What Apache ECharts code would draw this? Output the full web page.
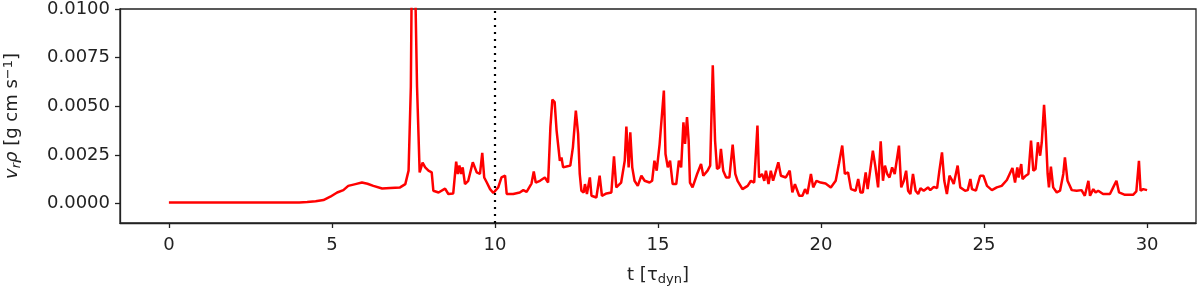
<!DOCTYPE html>
<html>
<head>
<meta charset="utf-8">
<script src="https://cdn.jsdelivr.net/npm/echarts@6/dist/echarts.min.js"></script>
<style>
  html, body { margin: 0; padding: 0; background: #fff; }
  #myChart { width: 1200px; height: 289px; }
</style>
</head>
<body>
<div id="myChart"></div>
<script>
// time in units of tau_dyn
const tVals = [
  0, 1, 2, 3, 4, 4.24, 4.5, 4.74, 4.95, 5.16, 5.35, 5.5, 5.72, 5.92, 6.09, 6.27, 6.54, 6.79, 7.09, 7.25,
  7.35, 7.42, 7.48, 7.54, 7.61, 7.69, 7.78, 7.86, 7.96, 8.06, 8.11, 8.27, 8.47, 8.57, 8.72, 8.81, 8.86, 8.91, 8.96, 9.01,
  9.08, 9.18, 9.32, 9.44, 9.54, 9.61, 9.67, 9.75, 9.85, 9.95, 10.1, 10.2, 10.31, 10.36, 10.56, 10.76, 10.87, 10.97, 11.12, 11.19,
  11.25, 11.38, 11.53, 11.63, 11.7, 11.76, 11.83, 11.89, 11.94, 11.99, 12.04, 12.09, 12.19, 12.31, 12.39, 12.48, 12.55, 12.6, 12.65, 12.72,
  12.76, 12.82, 12.91, 12.96, 13.11, 13.21, 13.28, 13.42, 13.57, 13.65, 13.72, 13.87, 13.98, 14.03, 14.1, 14.15, 14.21, 14.28, 14.38, 14.49,
  14.59, 14.74, 14.82, 14.89, 14.96, 15.05, 15.1, 15.18, 15.23, 15.3, 15.37, 15.45, 15.56, 15.64, 15.71, 15.78, 15.83, 15.89, 15.94, 15.98,
  16.06, 16.2, 16.32, 16.39, 16.52, 16.6, 16.68, 16.75, 16.81, 16.88, 16.93, 17.0, 17.09, 17.19, 17.29, 17.37, 17.44, 17.59, 17.75, 17.85,
  17.95, 18.05, 18.1, 18.19, 18.26, 18.31, 18.39, 18.46, 18.53, 18.69, 18.77, 18.92, 19.04, 19.12, 19.2, 19.33, 19.43, 19.51, 19.58, 19.69,
  19.76, 19.86, 19.99, 20.14, 20.3, 20.45, 20.55, 20.65, 20.73, 20.83, 20.92, 21.06, 21.14, 21.21, 21.28, 21.37, 21.43, 21.59, 21.67, 21.75,
  21.83, 21.9, 21.96, 22.03, 22.1, 22.18, 22.26, 22.39, 22.46, 22.54, 22.61, 22.67, 22.74, 22.82, 22.9, 22.98, 23.05, 23.15, 23.28, 23.35,
  23.46, 23.56, 23.63, 23.71, 23.78, 23.86, 23.94, 24.0, 24.07, 24.19, 24.27, 24.42, 24.5, 24.58, 24.63, 24.75, 24.88, 24.98, 25.09, 25.24,
  25.39, 25.54, 25.7, 25.87, 25.95, 26.02, 26.06, 26.14, 26.18, 26.28, 26.36, 26.44, 26.51, 26.58, 26.65, 26.72, 26.77, 26.84, 26.89, 26.95,
  26.99, 27.05, 27.12, 27.23, 27.33, 27.43, 27.48, 27.56, 27.69, 27.84, 27.99, 28.09, 28.2, 28.25, 28.35, 28.42, 28.5, 28.65, 28.86, 28.96,
  29.06, 29.14, 29.32, 29.57, 29.67, 29.75, 29.8, 29.88, 30.0
]
// v_r * rho
const fluxVals = [
  0.00005, 0.00005, 0.00005, 0.00005, 0.00006, 0.00008, 0.00012, 0.00018, 0.00035, 0.00057, 0.00069, 0.00091, 0.00100, 0.00108, 0.00102, 0.00091, 0.00077, 0.00080, 0.00083, 0.00100,
  0.00169, 0.00600, 0.01800, 0.01800, 0.00600, 0.00160, 0.00210, 0.00186, 0.00169, 0.00160, 0.00066, 0.00057, 0.00077, 0.00049, 0.00052, 0.00215, 0.00152, 0.00195, 0.00152, 0.00186,
  0.00100, 0.00117, 0.00212, 0.00160, 0.00152, 0.00260, 0.00134, 0.00108, 0.00074, 0.00054, 0.00083, 0.00134, 0.00143, 0.00049, 0.00049, 0.00057, 0.00069, 0.00060, 0.00103, 0.00165,
  0.00108, 0.00117, 0.00134, 0.00108, 0.00392, 0.00534, 0.00521, 0.00375, 0.00384, 0.00220, 0.00237, 0.00186, 0.00190, 0.00195, 0.00289, 0.00478, 0.00358, 0.00152, 0.00066, 0.00057,
  0.00100, 0.00049, 0.00134, 0.00040, 0.00031, 0.00143, 0.00040, 0.00052, 0.00057, 0.00243, 0.00083, 0.00108, 0.00220, 0.00396, 0.00186, 0.00366, 0.00186, 0.00117, 0.00091, 0.00143,
  0.00117, 0.00108, 0.00117, 0.00220, 0.00169, 0.00306, 0.00315, 0.00581, 0.00255, 0.00186, 0.00220, 0.00100, 0.00100, 0.00220, 0.00186, 0.00418, 0.00306, 0.00444, 0.00324, 0.00108,
  0.00083, 0.00152, 0.00203, 0.00143, 0.00169, 0.00195, 0.00711, 0.00324, 0.00178, 0.00186, 0.00281, 0.00169, 0.00134, 0.00134, 0.00303, 0.00152, 0.00117, 0.00074, 0.00091, 0.00117,
  0.00108, 0.00401, 0.00134, 0.00152, 0.00117, 0.00169, 0.00100, 0.00169, 0.00117, 0.00212, 0.00143, 0.00134, 0.00169, 0.00057, 0.00100, 0.00040, 0.00040, 0.00074, 0.00049, 0.00152,
  0.00083, 0.00117, 0.00108, 0.00103, 0.00083, 0.00117, 0.00206, 0.00298, 0.00152, 0.00160, 0.00074, 0.00066, 0.00126, 0.00057, 0.00057, 0.00160, 0.00074, 0.00272, 0.00186, 0.00083,
  0.00320, 0.00117, 0.00195, 0.00152, 0.00134, 0.00186, 0.00152, 0.00298, 0.00083, 0.00117, 0.00169, 0.00066, 0.00049, 0.00152, 0.00066, 0.00049, 0.00079, 0.00066, 0.00083, 0.00069,
  0.00086, 0.00079, 0.00169, 0.00263, 0.00117, 0.00049, 0.00143, 0.00126, 0.00100, 0.00195, 0.00083, 0.00066, 0.00069, 0.00126, 0.00074, 0.00066, 0.00143, 0.00143, 0.00091, 0.00069,
  0.00083, 0.00091, 0.00121, 0.00183, 0.00108, 0.00186, 0.00134, 0.00203, 0.00126, 0.00143, 0.00152, 0.00324, 0.00169, 0.00178, 0.00315, 0.00246, 0.00315, 0.00507, 0.00375, 0.00152,
  0.00083, 0.00190, 0.00083, 0.00057, 0.00066, 0.00152, 0.00237, 0.00117, 0.00069, 0.00066, 0.00069, 0.00040, 0.00117, 0.00040, 0.00074, 0.00057, 0.00066, 0.00049, 0.00049, 0.00083,
  0.00117, 0.00057, 0.00045, 0.00045, 0.00062, 0.00220, 0.00066, 0.00074, 0.00069
]
const xTicks = [0, 5, 10, 15, 20, 25, 30]
const yTicks = [0, 0.0025, 0.005, 0.0075, 0.01]
const markerT = 10

const font = 'DejaVu Sans'
let points = tVals.map((t, i) => [t, fluxVals[i]])

let option = {
  animation: false,
  grid: {
    left: 120,
    right: 4,
    top: 9,
    bottom: 66,
    outerBoundsMode: 'none',
    containLabel: false,
    show: true,
    borderColor: '#222',
    borderWidth: 1.3,
  },
  xAxis: {
    type: 'value',
    min: -1.5,
    max: 31.5,
    name: '{a|t [τ}{s|dyn}{a|]}',
    nameLocation: 'middle',
    nameGap: 42,
    nameTextStyle: {
      rich: {
        a: {fontFamily: font, fontSize: 18, color: '#222'},
        s: {fontFamily: font, fontSize: 13, color: '#222', padding: [8, 0, 0, 0]}
      }
    },
    axisLine: {show: true, onZero: false, lineStyle: {color: '#222', width: 1.3}},
    axisTick: {show: true, customValues: xTicks, length: 5, lineStyle: {color: '#222', width: 1.3}},
    axisLabel: {customValues: xTicks, margin: 13, fontFamily: font, fontSize: 18, color: '#222'},
    splitLine: {show: false},
  },
  yAxis: {
    type: 'value',
    min: -0.001,
    max: 0.01,
    name: '{i|v}{s|r}{i|ρ}{a| [g cm s}{p|−1}{a|]}',
    nameLocation: 'middle',
    nameGap: 97,
    nameRotate: 90,
    nameTextStyle: {
      rich: {
        a: {fontFamily: font, fontSize: 18, color: '#222'},
        i: {fontFamily: font, fontSize: 18, fontStyle: 'italic', color: '#222'},
        s: {fontFamily: font, fontSize: 13, fontStyle: 'italic', color: '#222', padding: [8, 0, 0, 0]},
        p: {fontFamily: font, fontSize: 13, color: '#222', padding: [0, 0, 8, 0]}
      }
    },
    axisLine: {show: true, onZero: false, lineStyle: {color: '#222', width: 1.3}},
    axisTick: {show: true, customValues: yTicks, length: 5, lineStyle: {color: '#222', width: 1.3}},
    axisLabel: {
      customValues: yTicks,
      margin: 10,
      fontFamily: font,
      fontSize: 18,
      color: '#222',
      formatter: v => v.toFixed(4)
    },
    splitLine: {show: false},
  },
  series: [
    {
      type: 'line',
      data: points,
      showSymbol: false,
      clip: true,
      lineStyle: {color: '#ff0000', width: 2.5},
      markLine: {
        silent: true,
        symbol: 'none',
        label: {show: false},
        lineStyle: {color: '#000', type: [2, 5], width: 2.2},
        data: [{xAxis: markerT}]
      }
    }
  ]
}

let myChart = echarts.init(document.getElementById('myChart'), null, {renderer: 'canvas'})
myChart.setOption(option)
</script>
</body>
</html>
